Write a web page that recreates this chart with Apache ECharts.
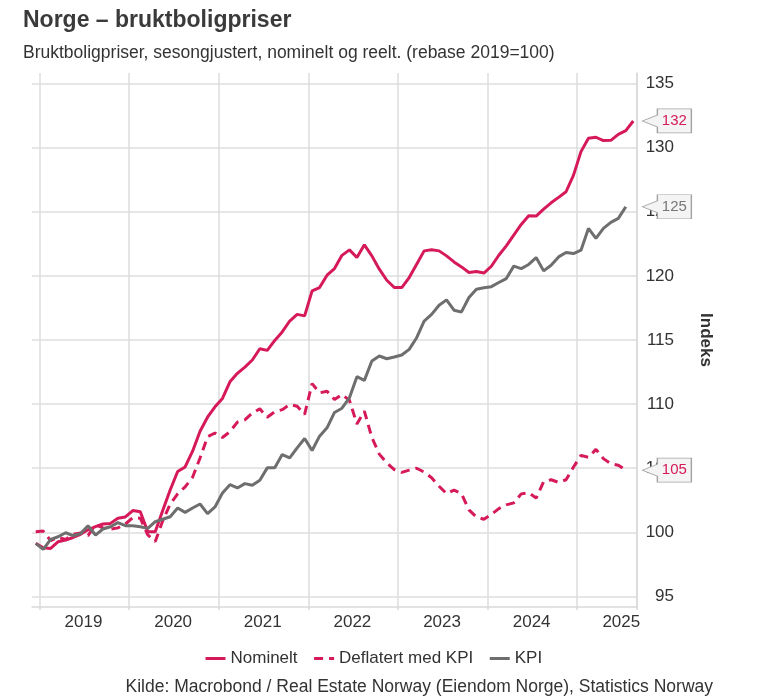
<!DOCTYPE html>
<html><head><meta charset="utf-8">
<script src="https://cdn.jsdelivr.net/npm/echarts@6/dist/echarts.min.js"></script>
<style>html,body{margin:0;padding:0;background:#fff}#c{width:760px;height:698px}</style>
</head><body><div id="c"></div>
<script>
// Monthly categories, Dec 2018 .. Aug 2025
const months = [
  '2018-12',
  '2019-01','2019-02','2019-03','2019-04','2019-05','2019-06','2019-07','2019-08','2019-09','2019-10','2019-11','2019-12',
  '2020-01','2020-02','2020-03','2020-04','2020-05','2020-06','2020-07','2020-08','2020-09','2020-10','2020-11','2020-12',
  '2021-01','2021-02','2021-03','2021-04','2021-05','2021-06','2021-07','2021-08','2021-09','2021-10','2021-11','2021-12',
  '2022-01','2022-02','2022-03','2022-04','2022-05','2022-06','2022-07','2022-08','2022-09','2022-10','2022-11','2022-12',
  '2023-01','2023-02','2023-03','2023-04','2023-05','2023-06','2023-07','2023-08','2023-09','2023-10','2023-11','2023-12',
  '2024-01','2024-02','2024-03','2024-04','2024-05','2024-06','2024-07','2024-08','2024-09','2024-10','2024-11','2024-12',
  '2025-01','2025-02','2025-03','2025-04','2025-05','2025-06','2025-07','2025-08'
];

const nominelt = [
  99.14,
  98.80, 98.75, 99.27, 99.40, 99.60, 99.85, 100.20, 100.45, 100.65, 100.70, 101.10, 101.20,
  101.70, 101.60, 100.05, 100.05, 101.70, 103.30, 104.75, 105.10, 106.33, 107.89, 108.98, 109.79,
  110.44, 111.74, 112.40, 112.89, 113.44, 114.32, 114.19, 114.97, 115.63, 116.48, 117.00, 116.88,
  118.83, 119.09, 120.05, 120.57, 121.60, 122.03, 121.43, 122.42, 121.56, 120.52, 119.66, 119.09,
  119.09, 119.87, 120.91, 121.95, 122.03, 121.95, 121.56, 121.09, 120.70, 120.26, 120.34, 120.22,
  120.75, 121.61, 122.34, 123.18, 124.01, 124.69, 124.66, 125.21, 125.70, 126.12, 126.56, 127.86,
  129.69, 130.73, 130.81, 130.55, 130.57, 131.04, 131.33, 132.08
];

const deflatert = [
  100.05,
  100.10, 99.35, 99.60, 99.45, 99.85, 99.95, 99.75, 100.60, 100.35, 100.25, 100.35, 100.65,
  101.15, 101.10, 99.80, 99.28, 100.90, 102.20, 103.00, 103.55, 104.30, 105.80, 107.45, 107.75,
  107.40, 107.85, 108.60, 108.78, 109.30, 109.63, 108.97, 109.40, 109.57, 109.96, 109.84, 109.20,
  111.60, 110.88, 111.00, 110.36, 110.75, 110.30, 108.45, 109.45, 107.40, 106.10, 105.42, 104.90,
  104.68, 104.85, 105.00, 104.70, 104.26, 103.60, 103.02, 103.30, 103.02, 101.75, 101.20, 101.02,
  101.40, 101.85, 102.14, 102.30, 103.00, 103.10, 102.67, 103.95, 104.10, 103.90, 104.10, 105.10,
  106.00, 105.85, 106.47, 105.75, 105.35, 105.24, 104.85
];

const kpi = [
  99.14,
  98.67, 99.45, 99.66, 99.97, 99.74, 99.90, 100.52, 99.79, 100.26, 100.44, 100.76, 100.52,
  100.52, 100.44, 100.31, 100.83, 101.02, 101.22, 101.90, 101.56, 101.90, 102.21, 101.46, 101.98,
  103.07, 103.72, 103.46, 103.80, 103.67, 104.06, 105.03, 105.03, 106.07, 105.81, 106.59, 107.32,
  106.38, 107.50, 108.15, 109.35, 109.68, 110.49, 112.14, 111.85, 113.36, 113.75, 113.54, 113.67,
  113.83, 114.27, 115.18, 116.48, 117.00, 117.71, 118.13, 117.32, 117.19, 118.31, 118.96, 119.07,
  119.16, 119.48, 119.79, 120.76, 120.57, 120.89, 121.43, 120.39, 120.83, 121.48, 121.82, 121.74,
  122.00, 123.70, 122.92, 123.70, 124.17, 124.48, 125.39
];

const yTicks = [95, 100, 105, 110, 115, 120, 125, 130, 135];
const seriesNames = ['Nominelt', 'Deflatert med KPI', 'KPI'];

const RED = '#d6195b';
const GRAY = '#6e6e6e';
const FONT = '"Liberation Sans", Arial, Helvetica, sans-serif';

const isJan = (i, v) => String(v).slice(5) === '01';
const isJul = (i, v) => String(v).slice(5) === '07';
const lastCat = months[months.length - 1];

function callout(values, color) {
  const last = values[values.length - 1];
  return {
    silent: true,
    symbol: 'path://M0,12 L15,6 L15,0 L49,0 L49,24 L15,24 L15,18 Z',
    symbolSize: [49, 24],
    symbolOffset: [33.6, 0],
    itemStyle: { color: '#f4f4f4', borderColor: '#a3a3a3', borderWidth: 1 },
    label: {
      show: true, position: 'inside', offset: [7.5, 0],
      formatter: p => String(Math.round(p.value)),
      color: color, fontSize: 15, fontFamily: FONT
    },
    data: [{ coord: [lastCat, last], value: last }]
  };
}

const chart = echarts.init(document.getElementById('c'), null, { renderer: 'canvas' });
chart.setOption({
  animation: false,
  backgroundColor: '#ffffff',
  textStyle: { fontFamily: FONT },
  title: [
    { text: 'Norge – bruktboligpriser', left: 23, top: 9, padding: 0,
      textStyle: { fontSize: 23, fontWeight: 'bold', color: '#3a3a3a', fontFamily: FONT } },
    { text: 'Bruktboligpriser, sesongjustert, nominelt og reelt. (rebase 2019=100)', left: 23, top: 44, padding: 0,
      textStyle: { fontSize: 17.5, fontWeight: 'normal', color: '#333', fontFamily: FONT } },
    { text: 'Kilde: Macrobond / Real Estate Norway (Eiendom Norge), Statistics Norway', right: 47, top: 678, padding: 0,
      textStyle: { fontSize: 17.5, fontWeight: 'normal', color: '#333', fontFamily: FONT } }
  ],
  legend: {
    left: 204, top: 650, padding: 0, itemWidth: 20, itemHeight: 14, itemGap: 15,
    itemStyle: { opacity: 0 },
    lineStyle: { width: 3 },
    textStyle: { fontSize: 17, color: '#333', fontFamily: FONT },
    data: seriesNames
  },
  grid: { left: 32, right: 123, top: 73, bottom: 91, containLabel: false, outerBoundsMode: 'none' },
  xAxis: {
    type: 'category', data: months, boundaryGap: true,
    axisLine: { show: true, lineStyle: { color: '#d9d9d9', width: 1.5 } },
    axisTick: { show: true, interval: isJan, length: 3, lineStyle: { color: '#d9d9d9', width: 1.5 } },
    axisLabel: { interval: isJul, formatter: v => v.slice(0, 4), fontSize: 17, color: '#333', margin: 7, padding: [0, 9, 0, 0] },
    splitLine: { show: true, interval: isJan, lineStyle: { color: '#dcdcdc', width: 1.5 } }
  },
  yAxis: {
    type: 'value', position: 'right', min: 94.18, max: 135.82,
    axisLine: { show: true, lineStyle: { color: '#d9d9d9', width: 1.5 } },
    axisTick: { show: false, customValues: yTicks },
    axisLabel: { customValues: yTicks, fontSize: 17, color: '#333', align: 'right', margin: 37 },
    splitLine: { show: true, lineStyle: { color: '#e6e6e6', width: 2 } },
    name: 'Indeks', nameLocation: 'middle', nameRotate: -90, nameGap: 60,
    nameTextStyle: { fontSize: 17, fontWeight: 'bold', color: '#333' }
  },
  series: [
    { name: seriesNames[0], type: 'line', data: nominelt, symbol: 'none', z: 3,
      lineStyle: { color: RED, width: 3 }, itemStyle: { color: RED },
      markPoint: callout(nominelt, RED) },
    { name: seriesNames[1], type: 'line', data: deflatert, symbol: 'none', z: 3,
      lineStyle: { color: RED, width: 3, type: [9, 6] }, itemStyle: { color: RED },
      markPoint: callout(deflatert, RED) },
    { name: seriesNames[2], type: 'line', data: kpi, symbol: 'none', z: 3,
      lineStyle: { color: GRAY, width: 3 }, itemStyle: { color: GRAY },
      markPoint: callout(kpi, '#777') }
  ]
});
</script>
</body></html>
